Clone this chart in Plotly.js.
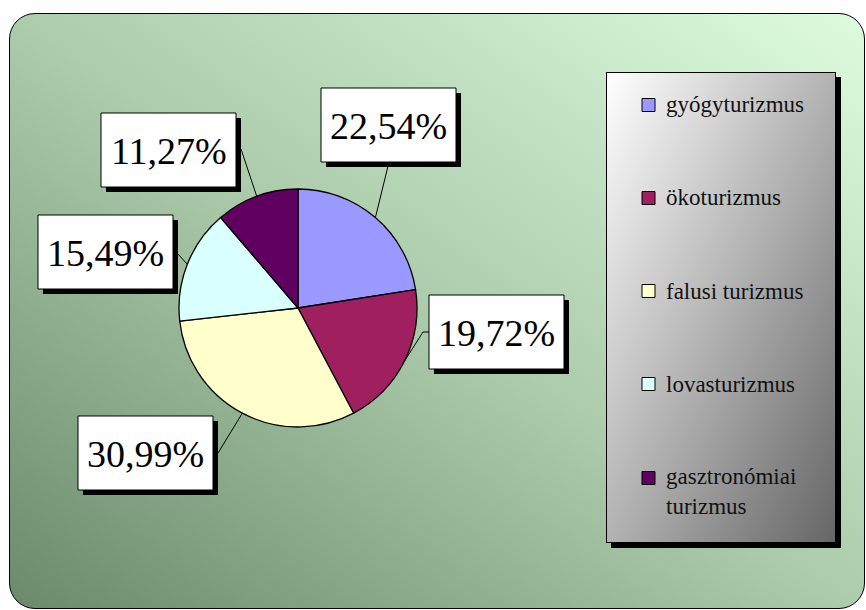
<!DOCTYPE html>
<html>
<head>
<meta charset="utf-8">
<script src="https://cdn.plot.ly/plotly-3.0.1.min.js"></script>
<style>
html, body { margin: 0; padding: 0; background: #fff; }
#wrap { position: relative; width: 866px; height: 610px; }
#frame { position: absolute; left: 9px; top: 13px; width: 856px; height: 596px; box-sizing: border-box; border: 1.5px solid #000; border-radius: 26px; background: linear-gradient(to top right, #6a8a6b 0%, #acccac 50%, #defbde 100%); }
#legbox { position: absolute; left: 606px; top: 72px; width: 230px; height: 471px; box-sizing: border-box; border: 1px solid #000; box-shadow: 5px 5px 0 #000; background: linear-gradient(to bottom right, #ffffff 0%, #666666 100%); }
#chart { position: absolute; left: 0; top: 0; width: 866px; height: 610px; }
#chart svg text { font-family: "Liberation Serif", "Times New Roman", serif !important; }
</style>
</head>
<body>
<div id="wrap">
<div id="frame"></div>
<div id="legbox"></div>
<div id="chart"></div>
</div>
<script>
// ---- data ----
const labels = ['gyógyturizmus', 'ökoturizmus', 'falusi turizmus', 'lovasturizmus', 'gasztronómiai turizmus'];
const legendText = ['gyógyturizmus', 'ökoturizmus', 'falusi turizmus', 'lovasturizmus', 'gasztronómiai<br>turizmus'];
const values = [16, 14, 22, 11, 8];
const colors = ['#9999FF', '#A01F5E', '#FFFFCC', '#D9FFFF', '#600060'];

// ---- layout (pixel positions) ----
const W = 866, H = 610;
const CX = 298, CY = 308, R = 119;
const BOX_W = 135, BOX_H = 74, SH = 5;
const boxPos = [[321, 88], [429, 295], [78, 416], [38, 215], [101, 113]];
const leaderStart = [[[389, 162]], [[429, 332], [423, 332]], [[212, 453], [218, 453]], [[173, 252], [177, 253]], [[241, 149]]];
const legendY = [105, 198, 291, 384, 478];
const SERIF = 'Liberation Serif';

const px = x => x / W;
const py = y => 1 - y / H;

const total = values.reduce((a, b) => a + b, 0);
const pctText = values.map(v => (v / total * 100).toFixed(2).replace('.', ',') + '%');

const shapes = [];
const annotations = [];

// leader lines computed from slice mid-angles
let cum = 0;
values.forEach((v, i) => {
  const mid = (cum + v / 2) / total * 2 * Math.PI;
  cum += v;
  const ex = CX + R * Math.sin(mid), ey = CY - R * Math.cos(mid);
  const pts = leaderStart[i].concat([[ex, ey]]);
  let path = '';
  pts.forEach((p, k) => { path += (k === 0 ? 'M' : 'L') + px(p[0]) + ',' + py(p[1]); });
  shapes.push({type: 'path', xref: 'paper', yref: 'paper', path: path, line: {color: '#000', width: 1}, layer: 'above'});
});

// label boxes with shadows
values.forEach((v, i) => {
  const [bx, by] = boxPos[i];
  shapes.push({type: 'rect', xref: 'paper', yref: 'paper', x0: px(bx + SH), x1: px(bx + BOX_W + SH), y0: py(by + SH), y1: py(by + BOX_H + SH), fillcolor: '#000', line: {width: 0}, layer: 'above'});
  shapes.push({type: 'rect', xref: 'paper', yref: 'paper', x0: px(bx), x1: px(bx + BOX_W), y0: py(by), y1: py(by + BOX_H), fillcolor: '#fff', line: {color: '#000', width: 1}, layer: 'above'});
  annotations.push({xref: 'paper', yref: 'paper', x: px(bx + BOX_W / 2), y: py(by + BOX_H / 2 + 1), xanchor: 'center', yanchor: 'middle', text: pctText[i], showarrow: false, font: {family: SERIF, size: 38, color: '#000'}});
});

// custom legend
labels.forEach((l, i) => {
  const yc = legendY[i];
  shapes.push({type: 'rect', xref: 'paper', yref: 'paper', x0: px(642), x1: px(655), y0: py(yc - 6.5), y1: py(yc + 6.5), fillcolor: colors[i], line: {color: '#000', width: 1}, layer: 'above'});
  const multi = legendText[i].indexOf('<br>') >= 0;
  annotations.push({xref: 'paper', yref: 'paper', x: px(664), y: multi ? py(yc - 16) : py(yc), xanchor: 'left', yanchor: multi ? 'top' : 'middle', align: 'left', text: legendText[i], showarrow: false, font: {family: SERIF, size: 23, color: '#111'}});
});

const data = [{
  type: 'pie',
  labels: labels,
  values: values,
  sort: false,
  direction: 'clockwise',
  rotation: 0,
  textinfo: 'none',
  hoverinfo: 'none',
  marker: {colors: colors, line: {color: '#000', width: 1.3}},
  domain: {x: [px(CX - R), px(CX + R)], y: [py(CY + R), py(CY - R)]},
  showlegend: false
}];

const layout = {
  width: W, height: H,
  margin: {l: 0, r: 0, t: 0, b: 0},
  paper_bgcolor: 'rgba(0,0,0,0)',
  plot_bgcolor: 'rgba(0,0,0,0)',
  font: {family: SERIF},
  showlegend: false,
  shapes: shapes,
  annotations: annotations
};

Plotly.newPlot('chart', data, layout, {displayModeBar: false});
</script>
</body>
</html>
